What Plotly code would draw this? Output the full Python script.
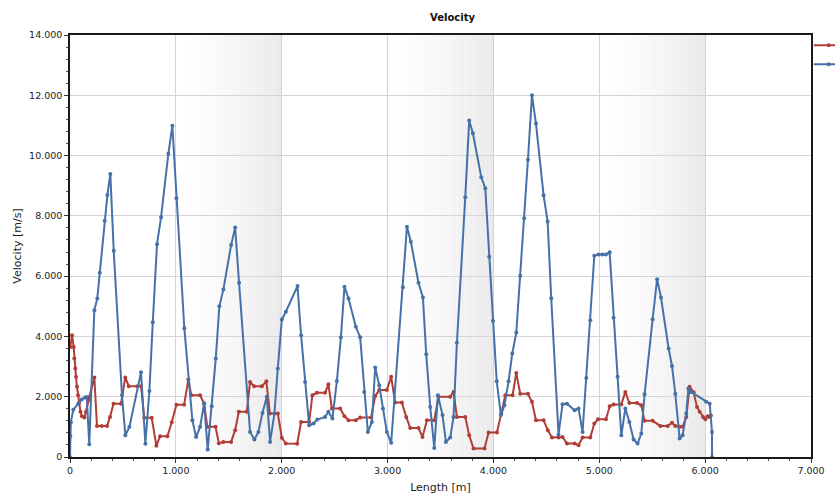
import plotly.graph_objects as go

# Series 1 (red): length [m] and velocity [m/s]
red_length = [3, 19, 35, 41, 50, 57, 66, 76, 85, 99, 113, 135, 151, 170, 182, 230, 255, 300, 350,
              378, 411, 482, 522, 555, 636, 671, 702, 772, 816, 851, 920, 961, 1005, 1078, 1118,
              1146, 1229, 1267, 1297, 1375, 1406, 1449, 1522, 1560, 1595, 1670, 1701, 1739, 1812,
              1855, 1888, 1963, 2001, 2039, 2146, 2183, 2259, 2290, 2332, 2410, 2441, 2474, 2552,
              2593, 2631, 2700, 2741, 2845, 2883, 2921, 2993, 3034, 3072, 3135, 3176, 3214, 3292,
              3330, 3372, 3441, 3481, 3592, 3623, 3655, 3734, 3771, 3812, 3916, 3954, 4033, 4074,
              4112, 4181, 4216, 4253, 4326, 4364, 4402, 4474, 4513, 4553, 4615, 4653, 4695, 4767,
              4804, 4842, 4915, 4953, 4988, 5063, 5098, 5135, 5208, 5246, 5284, 5357, 5397, 5428,
              5504, 5577, 5646, 5687, 5718, 5759, 5787, 5822, 5853, 5891, 5923, 5948, 5980, 6002,
              6024, 6043, 6054]
red_velocity = [3650, 4040, 3650, 3270, 2940, 2660, 2330, 2050, 1800, 1500, 1350, 1310, 1500, 1880,
                1990, 2640, 1030, 1030, 1030, 1330, 1770, 1770, 2640, 2350, 2350, 2350, 1300, 1300,
                370, 690, 690, 1150, 1730, 1730, 2570, 2050, 2050, 1770, 1000, 1000, 460, 500, 500,
                890, 1500, 1500, 2490, 2350, 2350, 2510, 1440, 1440, 640, 445, 440, 1160, 1160,
                2050, 2130, 2130, 2410, 1610, 1610, 1350, 1220, 1220, 1310, 1310, 2020, 2220, 2220,
                2660, 1810, 1810, 1330, 960, 960, 665, 1220, 1220, 2000, 2000, 2160, 1330, 1330,
                720, 280, 280, 810, 810, 1440, 2050, 2050, 2790, 2100, 2100, 1830, 1220, 1220, 890,
                645, 645, 665, 445, 445, 390, 645, 645, 1110, 1250, 1250, 1680, 1740, 1740, 2160,
                1790, 1790, 1720, 1200, 1200, 1030, 1030, 1140, 1030, 1000, 1000, 1330, 2330, 2150,
                1660, 1500, 1330, 1250, 1350, 1330, 1380]

# Series 2 (blue): length [m] and velocity [m/s]
blue_length = [0, 3, 8, 31, 78, 111, 142, 158, 182, 230, 258, 281, 328, 353, 381, 413, 491, 523, 561,
               671, 712, 750, 782, 822, 860, 929, 967, 1005, 1080, 1156, 1191, 1229, 1267, 1301,
               1339, 1377, 1411, 1449, 1522, 1560, 1597, 1701, 1742, 1780, 1818, 1859, 1890, 1931,
               1963, 2001, 2039, 2149, 2183, 2221, 2259, 2300, 2337, 2410, 2441, 2479, 2521, 2559,
               2593, 2631, 2700, 2741, 2779, 2814, 2852, 2883, 2921, 2956, 2993, 3034, 3145, 3183,
               3220, 3292, 3334, 3365, 3403, 3441, 3476, 3519, 3551, 3592, 3623, 3655, 3734, 3771,
               3806, 3885, 3923, 3960, 3995, 4031, 4071, 4104, 4143, 4178, 4216, 4253, 4291, 4326,
               4364, 4402, 4474, 4512, 4546, 4615, 4653, 4695, 4767, 4804, 4842, 4877, 4915, 4953,
               4993, 5030, 5063, 5098, 5135, 5173, 5208, 5246, 5284, 5324, 5362, 5397, 5428, 5504,
               5546, 5583, 5655, 5687, 5718, 5759, 5787, 5822, 5841, 5867, 6009, 6043, 6065, 6065]
blue_velocity = [0, 700, 1150, 1570, 1770, 1910, 1970, 1990, 420, 4870, 5260, 6110, 7840, 8690, 9390,
                 6840, 2050, 720, 1000, 2810, 440, 2190, 4470, 7060, 7950, 10060, 10990, 8580, 4270,
                 1220, 660, 1000, 1780, 245, 1680, 3270, 5000, 5560, 7030, 7610, 5780, 830, 580, 830,
                 1460, 2000, 500, 1440, 2940, 4560, 4820, 5670, 4040, 2490, 1050, 1110, 1240, 1330,
                 1500, 1280, 2520, 3970, 5650, 5260, 4320, 3970, 2160, 830, 1160, 2970, 2380, 1610,
                 830, 470, 5630, 7640, 7140, 5780, 5290, 3410, 1660, 300, 2050, 1390, 500, 645, 1330,
                 3790, 8620, 11160, 10740, 9280, 8920, 6640, 4520, 2510, 1390, 1720, 2510, 3430,
                 4130, 6010, 7920, 9860, 12000, 11060, 8680, 7810, 5270, 750, 1750, 1770, 1550, 1610,
                 830, 2620, 4540, 6680, 6720, 6720, 6720, 6790, 4620, 2660, 720, 1610, 1160, 580,
                 445, 780, 2080, 4570, 5900, 5290, 3600, 3020, 2100, 610, 720, 1440, 2270, 2160,
                 1830, 1770, 830, 0]

x_ticks = [0, 1000, 2000, 3000, 4000, 5000, 6000, 7000]
y_ticks = [0, 2000, 4000, 6000, 8000, 10000, 12000, 14000]
shaded_bands = [(1000, 2000), (3000, 4000), (5000, 6000)]

RED = "#b13d37"
BLUE = "#4671a8"
FONT = "DejaVu Sans"

fig = go.Figure()
fig.add_trace(go.Scatter(x=red_length, y=red_velocity, mode="lines+markers", name="",
                         line=dict(color=RED, width=2), marker=dict(color=RED, size=4)))
fig.add_trace(go.Scatter(x=blue_length, y=blue_velocity, mode="lines+markers", name="",
                         line=dict(color=BLUE, width=2), marker=dict(color=BLUE, size=4)))

# alternating bands shaded with a left-to-right white-to-grey gradient
shapes = []
steps = 40
for x0, x1 in shaded_bands:
    w = (x1 - x0) / steps
    for i in range(steps):
        t = (i + 0.5) / steps
        g = int(round(255 - 22 * t ** 1.4))
        shapes.append(dict(type="rect", xref="x", yref="paper", layer="below",
                           x0=x0 + i * w, x1=x0 + (i + 1) * w, y0=0, y1=1,
                           fillcolor=f"rgb({g},{g},{g})", line=dict(width=0)))

fig.update_layout(
    width=835, height=500,
    margin=dict(l=70, r=24, t=35, b=43, autoexpand=False),
    paper_bgcolor="white", plot_bgcolor="white",
    separators=",.",
    font=dict(family=FONT, size=10, color="#222222"),
    title=dict(text="<b>Velocity</b>", x=0.542, xanchor="center", y=0.966, yanchor="middle",
               font=dict(family=FONT, size=10, color="#111111")),
    shapes=shapes,
    showlegend=True,
    legend=dict(x=0.997, xanchor="left", y=1.01, yanchor="top", bgcolor="rgba(0,0,0,0)",
                font=dict(size=7), itemwidth=30, tracegroupgap=0),
)

axis_common = dict(showline=True, linecolor="#1a1a1a", linewidth=1.5, mirror=True,
                   showgrid=True, gridcolor="#d5d5d5", gridwidth=1, zeroline=False,
                   ticks="outside", ticklen=4, tickcolor="#333333",
                   tickfont=dict(family=FONT, size=9.5, color="#222222"), tickformat=",")

fig.update_xaxes(range=[0, 7000], tickvals=x_ticks, **axis_common,
                 minor=dict(dtick=200, ticks="outside", ticklen=2, tickcolor="#555555", showgrid=False),
                 title=dict(text="Length [m]", standoff=8, font=dict(family=FONT, size=11)))
fig.update_yaxes(range=[0, 14000], tickvals=y_ticks, **axis_common,
                 minor=dict(dtick=400, ticks="outside", ticklen=2, tickcolor="#555555", showgrid=False),
                 title=dict(text="Velocity [m/s]", standoff=5, font=dict(family=FONT, size=11)))

fig.write_html("out.html")
